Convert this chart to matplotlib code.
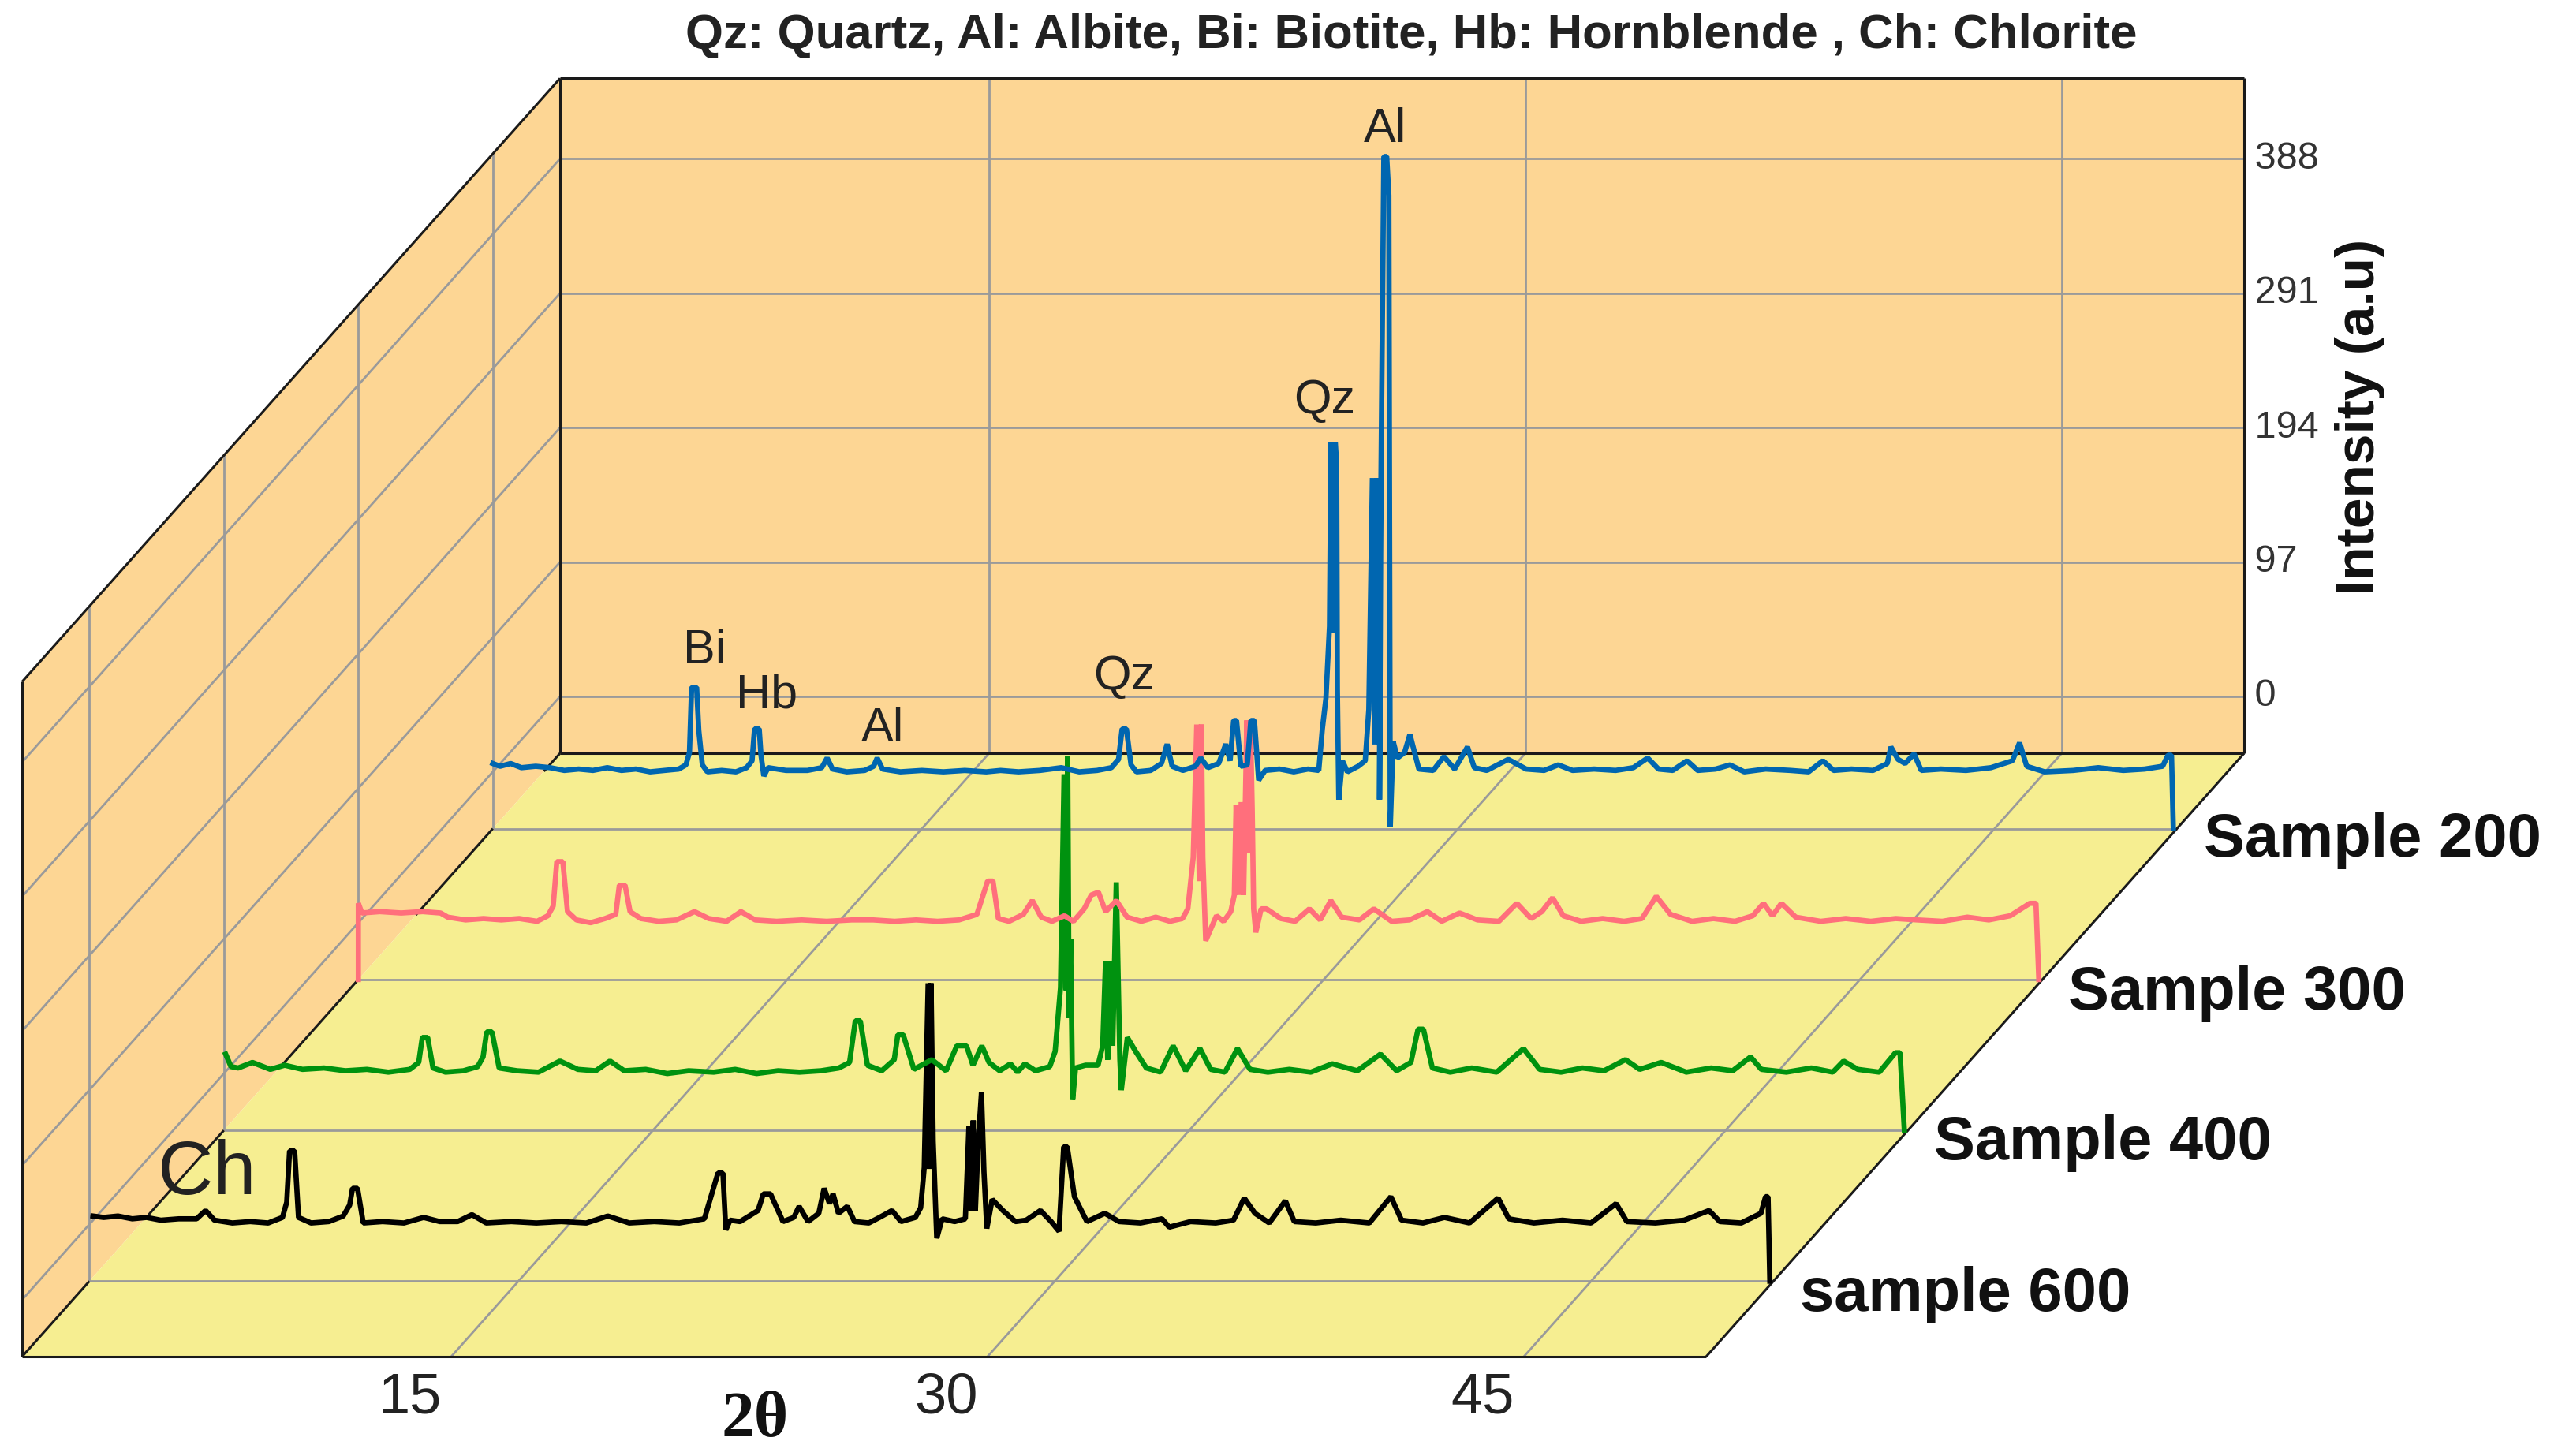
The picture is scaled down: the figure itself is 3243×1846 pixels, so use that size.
import numpy as np
import matplotlib
matplotlib.use('Agg')
import matplotlib.pyplot as plt

plt.rcParams['font.family'] = ['Liberation Sans', 'DejaVu Sans']

# (2theta, intensity), one list per sample
sample_200 = [(3.0, 6), (3.2, 4), (3.5, 6), (3.8, 3), (4.2, 4), (4.6, 3), (5.0, 1), (5.4, 2), (5.8, 1), (6.2, 3),
              (6.6, 1), (7.0, 2), (7.4, 0), (7.8, 1), (8.2, 2), (8.4, 5), (8.5, 14), (8.56, 61), (8.7, 61), (8.76, 30),
              (8.86, 5), (9.0, 0), (9.4, 1), (9.8, 0), (10.1, 3), (10.25, 8), (10.32, 31), (10.45, 31), (10.5, 12),
              (10.58, -3), (10.7, 3), (11.2, 1), (11.8, 1), (12.2, 3), (12.35, 10), (12.5, 2), (12.9, 0), (13.4, 1),
              (13.65, 4), (13.75, 10), (13.9, 2), (14.4, 0), (15.0, 1), (15.6, 0), (16.2, 1), (16.8, 0), (17.2, 1),
              (17.7, 0), (18.3, 1), (18.9, 3), (19.4, 0), (19.9, 1), (20.3, 3), (20.5, 9), (20.6, 31), (20.72, 31),
              (20.85, 5), (21.0, 0), (21.4, 1), (21.7, 6), (21.86, 20), (22.0, 4), (22.3, 1), (22.65, 4), (22.8, 10),
              (23.0, 3), (23.3, 6), (23.5, 20), (23.62, 8), (23.72, 37), (23.8, 37), (23.92, 4), (24.1, 5), (24.2, 37),
              (24.3, 37), (24.42, -6), (24.6, 1), (25.0, 2), (25.4, 0), (25.8, 2), (26.1, 1), (26.2, 31), (26.3, 53),
              (26.4, 105), (26.44, 238), (26.5, 100), (26.56, 238), (26.6, 223), (26.62, 60), (26.66, -20), (26.76, 8),
              (26.9, 0), (27.2, 4), (27.4, 8), (27.5, 45), (27.6, 212), (27.66, 20), (27.72, 212), (27.77, 20),
              (27.82, 212), (27.8, -20), (27.84, 212), (27.92, 444), (28.0, 444), (28.06, 416), (28.1, -40), (28.18, 22),
              (28.3, 10), (28.5, 14), (28.65, 27), (28.9, 2), (29.3, 1), (29.6, 11), (29.9, 2), (30.26, 18), (30.45, 3),
              (30.8, 1), (31.4, 9), (31.9, 2), (32.4, 1), (32.8, 5), (33.2, 1), (33.8, 2), (34.4, 1), (34.9, 3),
              (35.3, 10), (35.6, 2), (36.0, 1), (36.4, 8), (36.7, 1), (37.2, 2), (37.6, 5), (38.0, 0), (38.6, 2),
              (39.3, 1), (39.8, 0), (40.2, 8), (40.5, 1), (41.0, 2), (41.6, 1), (42.0, 6), (42.1, 18), (42.3, 9),
              (42.5, 6), (42.75, 13), (42.95, 1), (43.5, 2), (44.2, 1), (44.9, 3), (45.5, 8), (45.7, 21), (45.9, 4),
              (46.4, 0), (47.2, 1), (47.9, 3), (48.6, 1), (49.2, 2), (49.7, 4), (49.85, 12), (49.95, 12), (50.0, -41)]

sample_300 = [(3.0, -41), (3.0, 14), (3.1, 7), (3.6, 8), (4.2, 7), (4.8, 8), (5.3, 7), (5.5, 4), (6.0, 2), (6.5, 3),
              (7.0, 2), (7.5, 3), (8.0, 1), (8.3, 5), (8.45, 12), (8.55, 44), (8.72, 44), (8.85, 8), (9.1, 2), (9.5, 0),
              (9.9, 3), (10.2, 6), (10.3, 27), (10.46, 27), (10.6, 8), (10.9, 3), (11.4, 1), (11.9, 2), (12.4, 8),
              (12.8, 3), (13.3, 1), (13.7, 8), (14.1, 2), (14.7, 1), (15.4, 2), (16.1, 1), (16.8, 2), (17.4, 2),
              (18.0, 1), (18.6, 2), (19.2, 1), (19.8, 2), (20.3, 6), (20.6, 30), (20.75, 30), (20.9, 3), (21.2, 1),
              (21.6, 6), (21.85, 16), (22.1, 4), (22.4, 1), (22.75, 5), (23.0, 1), (23.3, 10), (23.5, 20), (23.7, 22),
              (23.9, 8), (24.2, 16), (24.5, 4), (24.9, 1), (25.3, 4), (25.7, 1), (26.05, 3), (26.2, 10), (26.35, 47),
              (26.45, 143), (26.52, 30), (26.58, 143), (26.62, 47), (26.7, -13), (27.0, 5), (27.2, 1), (27.4, 8),
              (27.5, 20), (27.55, 85), (27.62, 20), (27.7, 87), (27.76, 20), (27.85, 146), (27.92, 50), (27.95, 146),
              (28.0, 82), (28.04, 10), (28.1, -7), (28.25, 10), (28.4, 10), (28.8, 3), (29.2, 1), (29.6, 10), (29.9, 2),
              (30.2, 16), (30.5, 4), (31.0, 2), (31.4, 10), (31.9, 1), (32.4, 2), (32.9, 8), (33.3, 1), (33.8, 7),
              (34.3, 2), (34.9, 1), (35.4, 14), (35.8, 3), (36.1, 8), (36.4, 18), (36.7, 5), (37.2, 1), (37.8, 3),
              (38.4, 1), (38.9, 3), (39.3, 19), (39.7, 6), (40.3, 1), (40.9, 3), (41.5, 1), (42.0, 5), (42.3, 14),
              (42.55, 5), (42.8, 14), (43.2, 4), (43.9, 1), (44.6, 3), (45.3, 1), (46.0, 3), (46.6, 2), (47.3, 1),
              (48.0, 4), (48.6, 2), (49.2, 5), (49.75, 14), (49.92, 14), (50.0, -41)]

sample_400 = [(3.05, 14), (3.2, 5), (3.4, 4), (3.8, 8), (4.3, 3), (4.7, 6), (5.2, 3), (5.8, 4), (6.4, 2), (7.0, 3),
              (7.6, 1), (8.2, 3), (8.45, 8), (8.55, 26), (8.7, 26), (8.85, 4), (9.2, 1), (9.7, 2), (10.1, 5), (10.25, 12),
              (10.35, 30), (10.5, 30), (10.7, 4), (11.2, 2), (11.8, 1), (12.4, 9), (12.9, 3), (13.4, 2), (13.8, 9),
              (14.2, 2), (14.8, 3), (15.4, 0), (16.0, 2), (16.7, 1), (17.3, 3), (17.9, 0), (18.5, 2), (19.1, 1),
              (19.7, 2), (20.2, 4), (20.5, 8), (20.66, 38), (20.8, 38), (21.0, 6), (21.4, 2), (21.75, 10), (21.85, 28),
              (22.0, 28), (22.3, 3), (22.8, 10), (23.2, 2), (23.5, 20), (23.77, 20), (23.95, 6), (24.2, 20), (24.4, 8),
              (24.7, 2), (25.0, 7), (25.2, 1), (25.4, 7), (25.7, 2), (26.1, 5), (26.25, 16), (26.4, 62), (26.5, 216),
              (26.56, 60), (26.6, 229), (26.64, 40), (26.68, 97), (26.74, -19), (26.82, 4), (27.1, 6), (27.45, 6),
              (27.58, 20), (27.66, 81), (27.72, 10), (27.8, 81), (27.86, 20), (27.96, 138), (28.02, 62), (28.06, 10),
              (28.1, -12), (28.27, 26), (28.5, 16), (28.8, 4), (29.2, 1), (29.55, 20), (29.9, 2), (30.3, 18), (30.6, 3),
              (31.0, 1), (31.35, 18), (31.7, 3), (32.2, 1), (32.8, 3), (33.4, 1), (34.0, 7), (34.7, 2), (35.35, 14),
              (35.8, 2), (36.2, 8), (36.4, 32), (36.55, 32), (36.8, 4), (37.3, 1), (37.9, 4), (38.6, 1), (39.35, 18),
              (39.8, 3), (40.4, 1), (41.0, 4), (41.6, 2), (42.2, 10), (42.6, 3), (43.2, 8), (43.9, 1), (44.6, 4),
              (45.2, 2), (45.7, 12), (46.0, 3), (46.7, 1), (47.4, 4), (48.0, 1), (48.3, 9), (48.7, 3), (49.3, 1),
              (49.75, 15), (49.88, 15), (50.0, -41)]

sample_600 = [(3.1, 6), (3.4, 5), (3.8, 6), (4.2, 4), (4.6, 5), (5.0, 3), (5.5, 4), (6.0, 4), (6.25, 10), (6.5, 3),
              (7.0, 1), (7.5, 2), (8.0, 1), (8.4, 5), (8.52, 16), (8.6, 53), (8.74, 53), (8.85, 5), (9.2, 1), (9.7, 2),
              (10.1, 6), (10.28, 14), (10.36, 26), (10.5, 26), (10.66, 1), (11.2, 2), (11.8, 1), (12.35, 5), (12.8, 2),
              (13.3, 2), (13.7, 7), (14.1, 1), (14.8, 2), (15.5, 1), (16.2, 2), (16.9, 1), (17.5, 6), (18.1, 1),
              (18.8, 2), (19.5, 1), (20.2, 4), (20.58, 37), (20.72, 37), (20.8, -4), (20.92, 3), (21.2, 2), (21.7, 10),
              (21.85, 22), (22.05, 22), (22.4, 2), (22.7, 5), (22.85, 13), (23.1, 2), (23.4, 8), (23.55, 26), (23.7, 15),
              (23.8, 22), (23.95, 8), (24.2, 13), (24.4, 2), (24.8, 1), (25.1, 5), (25.45, 10), (25.7, 2), (26.1, 5),
              (26.25, 12), (26.35, 41), (26.46, 174), (26.5, 40), (26.54, 174), (26.6, 60), (26.7, -10), (26.85, 4),
              (27.2, 2), (27.5, 4), (27.6, 71), (27.66, 10), (27.72, 75), (27.78, 10), (27.86, 60), (27.95, 95),
              (28.02, 38), (28.1, -3), (28.25, 18), (28.55, 10), (28.9, 2), (29.2, 3), (29.6, 10), (29.9, 2),
              (30.12, -5), (30.25, 56), (30.35, 56), (30.55, 20), (30.9, 2), (31.4, 8), (31.8, 2), (32.4, 1), (33.0, 4),
              (33.2, -2), (33.8, 2), (34.5, 1), (35.0, 3), (35.3, 19), (35.6, 8), (36.0, 1), (36.45, 17), (36.7, 2),
              (37.3, 1), (38.0, 3), (38.8, 1), (39.4, 20), (39.7, 3), (40.3, 1), (40.9, 5), (41.6, 1), (42.4, 19),
              (42.7, 4), (43.4, 1), (44.2, 3), (45.0, 1), (45.7, 15), (46.0, 2), (46.8, 1), (47.6, 3), (48.3, 10),
              (48.6, 2), (49.2, 1), (49.75, 8), (49.88, 20), (49.95, 20), (50.0, -41)]

series = [('sample 600', sample_600, 0.125, 'black'),
          ('Sample 400', sample_400, 0.375, '#00920f'),
          ('Sample 300', sample_300, 0.625, '#ff6f7c'),
          ('Sample 200', sample_200, 0.875, '#0066b0')]

theta_ticks = [15, 30, 45]
intensity_ticks = [0, 97, 194, 291, 388]
depth_ticks = [0.125, 0.375, 0.625, 0.875]
# parts of the wall/floor edge that are inked black in the reference
edge_parts = [(0.0, 0.125), (0.235, 0.375), (0.48, 0.625), (0.732, 0.875), (0.97, 1.0)]

X_MIN, X_MAX = 3.0, 50.1
Y_MIN, Y_MAX = -41.0, 446.0
PX_X = 45.33   # pixels per degree
PX_Y = 1.757   # pixels per intensity unit
DX = 682 / PX_X
DY = 765 / PX_Y
W, H = 3243, 1846

WALL = '#fdd694'
FLOOR = '#f6ee91'
GRID = '#9a9a9a'


def proj(x, y, z):
    # oblique view: depth z slides everything up and to the right
    return np.asarray(x, dtype=float) + DX * z, np.asarray(y, dtype=float) + DY * z


def seg(ax, p0, p1, color=GRID, lw=2.0, zorder=2):
    a = proj(*p0)
    b = proj(*p1)
    ax.plot([a[0], b[0]], [a[1], b[1]], color=color, lw=lw, zorder=zorder, solid_capstyle='butt')


fig = plt.figure(figsize=(W / 100, H / 100), dpi=100)
ax = fig.add_axes([0, 0, 1, 1])
ax.set_xlim(15 - 572 / PX_X, 15 + (W - 572) / PX_X)
ax.set_ylim(Y_MIN - (H - 1720) / PX_Y, Y_MIN + 1720 / PX_Y)
ax.axis('off')

# walls and floor
for corners, col in [([(X_MIN, Y_MIN, 0), (X_MIN, Y_MAX, 0), (X_MIN, Y_MAX, 1), (X_MIN, Y_MIN, 1)], WALL),
                     ([(X_MIN, Y_MIN, 1), (X_MIN, Y_MAX, 1), (X_MAX, Y_MAX, 1), (X_MAX, Y_MIN, 1)], WALL),
                     ([(X_MIN, Y_MIN, 0), (X_MAX, Y_MIN, 0), (X_MAX, Y_MIN, 1), (X_MIN, Y_MIN, 1)], FLOOR)]:
    pts = [proj(*c) for c in corners]
    ax.fill([p[0] for p in pts], [p[1] for p in pts], color=col, lw=0, zorder=1)

# grid
for t in theta_ticks:
    seg(ax, (t, Y_MIN, 0), (t, Y_MIN, 1))
    seg(ax, (t, Y_MIN, 1), (t, Y_MAX, 1))
for v in intensity_ticks:
    seg(ax, (X_MIN, v, 0), (X_MIN, v, 1))
    seg(ax, (X_MIN, v, 1), (X_MAX, v, 1))
for z in depth_ticks:
    seg(ax, (X_MIN, Y_MIN, z), (X_MAX, Y_MIN, z))
    seg(ax, (X_MIN, Y_MIN, z), (X_MIN, Y_MAX, z))

# black frame
frame = [((X_MIN, Y_MIN, 0), (X_MIN, Y_MAX, 0)), ((X_MIN, Y_MAX, 0), (X_MIN, Y_MAX, 1)),
         ((X_MIN, Y_MAX, 1), (X_MAX, Y_MAX, 1)), ((X_MAX, Y_MAX, 1), (X_MAX, Y_MIN, 1)),
         ((X_MIN, Y_MAX, 1), (X_MIN, Y_MIN, 1)), ((X_MIN, Y_MIN, 1), (X_MAX, Y_MIN, 1)),
         ((X_MIN, Y_MIN, 0), (X_MAX, Y_MIN, 0)), ((X_MAX, Y_MIN, 0), (X_MAX, Y_MIN, 1))]
for a, b in frame:
    seg(ax, a, b, color='#1a1a1a', lw=2.2, zorder=3)
for z0, z1 in edge_parts:
    seg(ax, (X_MIN, Y_MIN, z0), (X_MIN, Y_MIN, z1), color='#1a1a1a', lw=2.2, zorder=3)

# spectra, front one first
for i, (name, pts, z, col) in enumerate(series):
    th, val = zip(*pts)
    px, py = proj(th, val, z)
    ax.plot(px, py, color=col, lw=4.8, solid_joinstyle='bevel', zorder=4 + i)


def label(x, y, s, **kw):
    ax.text(x / W, 1 - y / H, s, transform=ax.transAxes, ha=kw.pop('ha', 'center'), va=kw.pop('va', 'center'),
            zorder=10, **kw)


label(1789, 45, 'Qz: Quartz, Al: Albite, Bi: Biotite, Hb: Hornblende , Ch: Chlorite',
      fontsize=44.5, fontweight='bold', color='#222222')

for v in intensity_ticks:
    ax.text(*proj(X_MAX, v, 1), f' {v}', ha='left', va='center', fontsize=35, color='#333333', zorder=10)
for t in theta_ticks:
    label(572 + (t - 15) * PX_X - 52, 1773, str(t), fontsize=52, color='#222222')

label(2992, 528, 'Intensity (a.u)', rotation=90, fontsize=50, fontweight='bold', color='#111111')
label(957, 1802, '2θ', fontsize=60, fontweight='bold', family=['Liberation Serif', 'DejaVu Serif'], color='#111111')

for name, x, y in [('Sample 200', 2794, 1066), ('Sample 300', 2622, 1259), ('Sample 400', 2452, 1450),
                   ('sample 600', 2282, 1641)]:
    label(x, y, name, ha='left', fontsize=56, fontweight='bold', color='#111111')

for s, x, y in [('Bi', 893, 826), ('Hb', 972, 882), ('Al', 1119, 925), ('Qz', 1425, 859), ('Qz', 1679, 508),
                ('Al', 1756, 164)]:
    label(x, y, s, fontsize=44, color='#222222')
label(262, 1489, 'Ch', fontsize=70, color='#222222')

fig.savefig('out.png', dpi=100, facecolor='white')
